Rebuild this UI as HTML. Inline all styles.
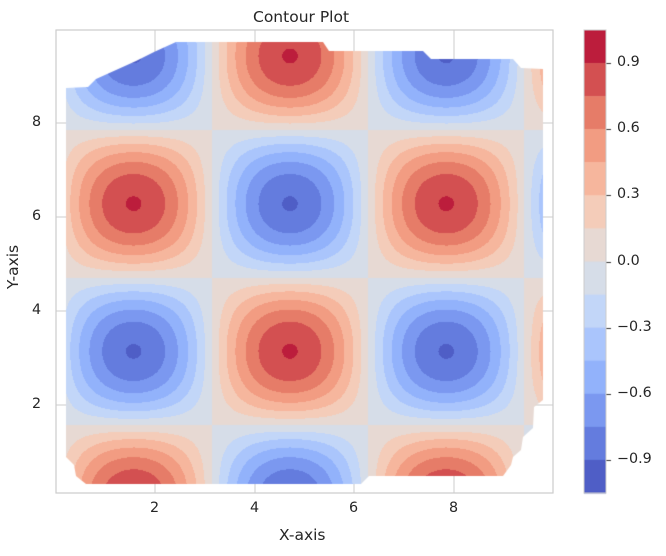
<!DOCTYPE html>
<html><head><style>
body{margin:0;background:#fff;width:666px;height:556px;overflow:hidden;font-family:"DejaVu Sans","Liberation Sans",sans-serif;color:#262626}
.t{position:absolute;font-size:14.3px;white-space:nowrap}
</style></head><body>
<svg width="666" height="556" style="position:absolute;left:0;top:0">
<rect x="56" y="30" width="497" height="463" fill="#fff" stroke="#ccc" stroke-width="1.2"/>
<g stroke="#ccc" stroke-width="1">
<line x1="155" y1="30" x2="155" y2="493"/><line x1="255" y1="30" x2="255" y2="493"/>
<line x1="354" y1="30" x2="354" y2="493"/><line x1="454" y1="30" x2="454" y2="493"/>
<line x1="56" y1="123" x2="553" y2="123"/><line x1="56" y1="217" x2="553" y2="217"/>
<line x1="56" y1="311" x2="553" y2="311"/><line x1="56" y1="405" x2="553" y2="405"/>
</g>
</svg>
<canvas id="c" width="666" height="556" style="position:absolute;left:0;top:0"></canvas>
<svg width="666" height="556" style="position:absolute;left:0;top:0">
<rect x="584" y="30" width="22" height="463" fill="none" stroke="#ccc" stroke-width="1"/>
</svg>
<div class="t" style="left:253px;top:8px;font-size:15.5px">Contour Plot</div>
<div class="t" style="left:279px;top:526px;font-size:15.5px">X-axis</div>
<div class="t" style="left:-9px;top:258px;font-size:15.5px;transform:rotate(-90deg)">Y-axis</div>
<div class="t" style="left:150px;top:500px">2</div>
<div class="t" style="left:250px;top:500px">4</div>
<div class="t" style="left:349px;top:500px">6</div>
<div class="t" style="left:449px;top:500px">8</div>
<div class="t" style="left:32px;top:114px">8</div>
<div class="t" style="left:32px;top:208px">6</div>
<div class="t" style="left:32px;top:302px">4</div>
<div class="t" style="left:32px;top:396px">2</div>
<div id="cb"></div>
<script>
const stops=[[0,59,76,192],[.125,98,130,234],[.25,141,176,254],[.375,184,208,249],[.5,221,221,221],[.625,245,196,173],[.75,244,154,123],[.875,222,96,77],[1,180,4,38]];
const A=0.9;
function cm(t){for(let i=0;i<stops.length-1;i++){const a=stops[i],b=stops[i+1];if(t<=b[0]){const f=(t-a[0])/(b[0]-a[0]);return [0,1,2].map(k=>Math.round((a[k+1]+(b[k+1]-a[k+1])*f)*A+255*(1-A)));}}return stops[8].slice(1);}
const cols=[];for(let i=0;i<14;i++)cols.push(cm(i/13));
const cv=document.getElementById('c'),ctx=cv.getContext('2d');
const poly=[[66,88],[88,87],[96,79],[116,70],[136,61],[154,52],[176,42],[323,42],[329,51],[423,51],[431,59],[513,59],[521,68],[543,69],[543,400],[534,407],[533,428],[523,437],[521,450],[513,457],[511,465],[503,476],[369,476],[361,484],[86,484],[76,476],[74,465],[66,457]];
ctx.save();ctx.beginPath();poly.forEach((p,i)=>i?ctx.lineTo(p[0],p[1]):ctx.moveTo(p[0],p[1]));ctx.closePath();ctx.clip();
const img=ctx.createImageData(666,556);
for(let py=30;py<494;py++)for(let px=56;px<554;px++){
 const x=(px+0.5-55.5)/49.75,y=(499-py-0.5)/47;
 let z=Math.sin(x)*Math.cos(y);
 z=0.91*Math.sign(z)*Math.pow(Math.abs(z),0.9);
 let b=Math.floor((z+1.05)/0.15);b=Math.max(0,Math.min(13,b));
 const c=cols[b],o=(py*666+px)*4;img.data[o]=c[0];img.data[o+1]=c[1];img.data[o+2]=c[2];img.data[o+3]=255;}
const tmp=document.createElement('canvas');tmp.width=666;tmp.height=556;tmp.getContext('2d').putImageData(img,0,0);
ctx.drawImage(tmp,0,0);ctx.restore();
const h=463/14;
for(let i=0;i<14;i++){const c=cols[13-i];ctx.fillStyle=`rgb(${c})`;ctx.fillRect(584,30+i*h,22,h+0.5);}
let s='';
[[0.9,'0.9'],[0.6,'0.6'],[0.3,'0.3'],[0,'0.0'],[-0.3,'\u22120.3'],[-0.6,'\u22120.6'],[-0.9,'\u22120.9']].forEach(([v,l])=>{
 const y=30+(1.05-v)/2.1*463;
 s+=`<div class="t" style="left:617px;top:${y-9}px">${l}</div>`;
 ctx.fillStyle='#333';ctx.fillRect(606,Math.round(y),5,1);});
document.getElementById('cb').innerHTML=s;
</script>
</body></html>
